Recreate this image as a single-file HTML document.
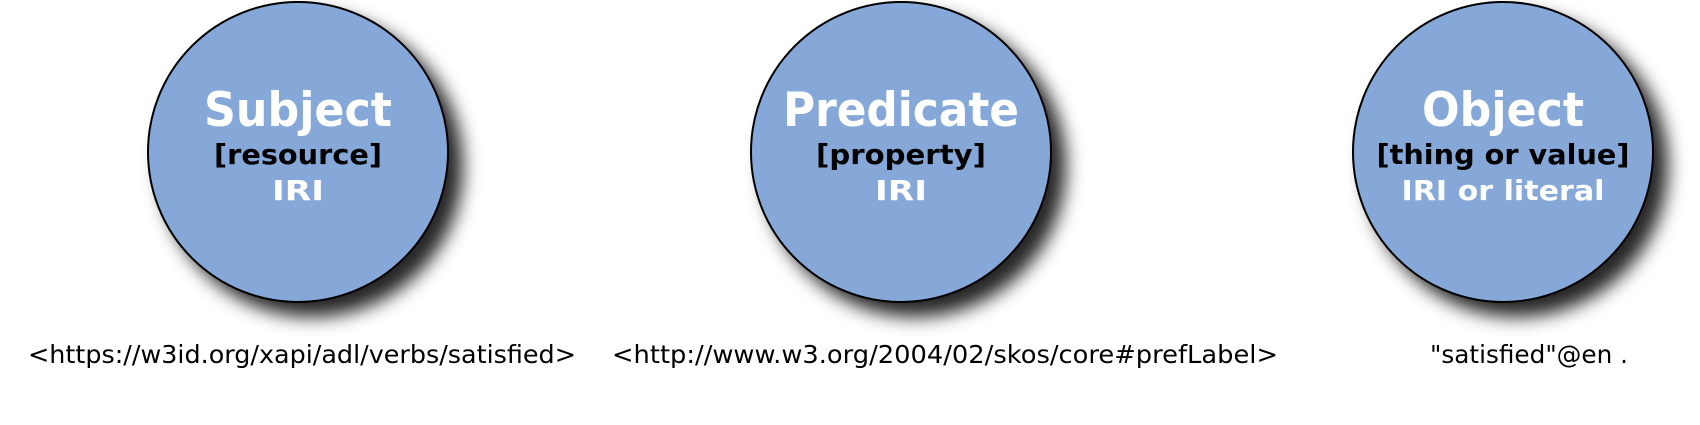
<!DOCTYPE html>
<html><head><meta charset="utf-8"><style>
html,body{margin:0;padding:0;background:#fff;width:1700px;height:425px;overflow:hidden}
svg{display:block}
text{font-family:"DejaVu Sans","Liberation Sans",sans-serif}
.h{font-weight:bold;fill:#fff;font-size:47px}
.s{font-weight:bold;fill:#000;font-size:28px}
.w{font-weight:bold;fill:#fff;font-size:28px}
.b{fill:#000;font-size:25px}
</style></head><body>
<svg width="1700" height="425" viewBox="0 0 1700 425">
<defs><filter id="sh" x="-20%" y="-20%" width="160%" height="160%"><feDropShadow dx="14" dy="14" stdDeviation="9" flood-color="#000" flood-opacity="0.85"/></filter></defs>
<g>
<circle cx="298" cy="152" r="150" fill="#86a8d8" stroke="#000" stroke-width="2" filter="url(#sh)"/>
<text class="h" x="298" y="126" text-anchor="middle" textLength="188" lengthAdjust="spacingAndGlyphs">Subject</text>
<text class="s" x="298" y="164" text-anchor="middle" textLength="168" lengthAdjust="spacingAndGlyphs">[resource]</text>
<text class="w" x="298" y="200" text-anchor="middle" textLength="52" lengthAdjust="spacingAndGlyphs">IRI</text>
</g>
<g>
<circle cx="901" cy="152" r="150" fill="#86a8d8" stroke="#000" stroke-width="2" filter="url(#sh)"/>
<text class="h" x="901" y="126" text-anchor="middle" textLength="236" lengthAdjust="spacingAndGlyphs">Predicate</text>
<text class="s" x="901" y="164" text-anchor="middle" textLength="170" lengthAdjust="spacingAndGlyphs">[property]</text>
<text class="w" x="901" y="200" text-anchor="middle" textLength="52" lengthAdjust="spacingAndGlyphs">IRI</text>
</g>
<g>
<circle cx="1503" cy="152" r="150" fill="#86a8d8" stroke="#000" stroke-width="2" filter="url(#sh)"/>
<text class="h" x="1503" y="126" text-anchor="middle" textLength="162" lengthAdjust="spacingAndGlyphs">Object</text>
<text class="s" x="1503" y="164" text-anchor="middle" textLength="253" lengthAdjust="spacingAndGlyphs">[thing or value]</text>
<text class="w" x="1503" y="200" text-anchor="middle" textLength="203" lengthAdjust="spacingAndGlyphs">IRI or literal</text>
</g>
<text class="b" x="28" y="363" textLength="548" lengthAdjust="spacingAndGlyphs">&lt;https://w3id.org/xapi/adl/verbs/satisfied&gt;</text>
<text class="b" x="612" y="363" textLength="666" lengthAdjust="spacingAndGlyphs">&lt;http://www.w3.org/2004/02/skos/core#prefLabel&gt;</text>
<text class="b" x="1430" y="363" textLength="198" lengthAdjust="spacingAndGlyphs">"satisfied"@en .</text>
</svg>
</body></html>
